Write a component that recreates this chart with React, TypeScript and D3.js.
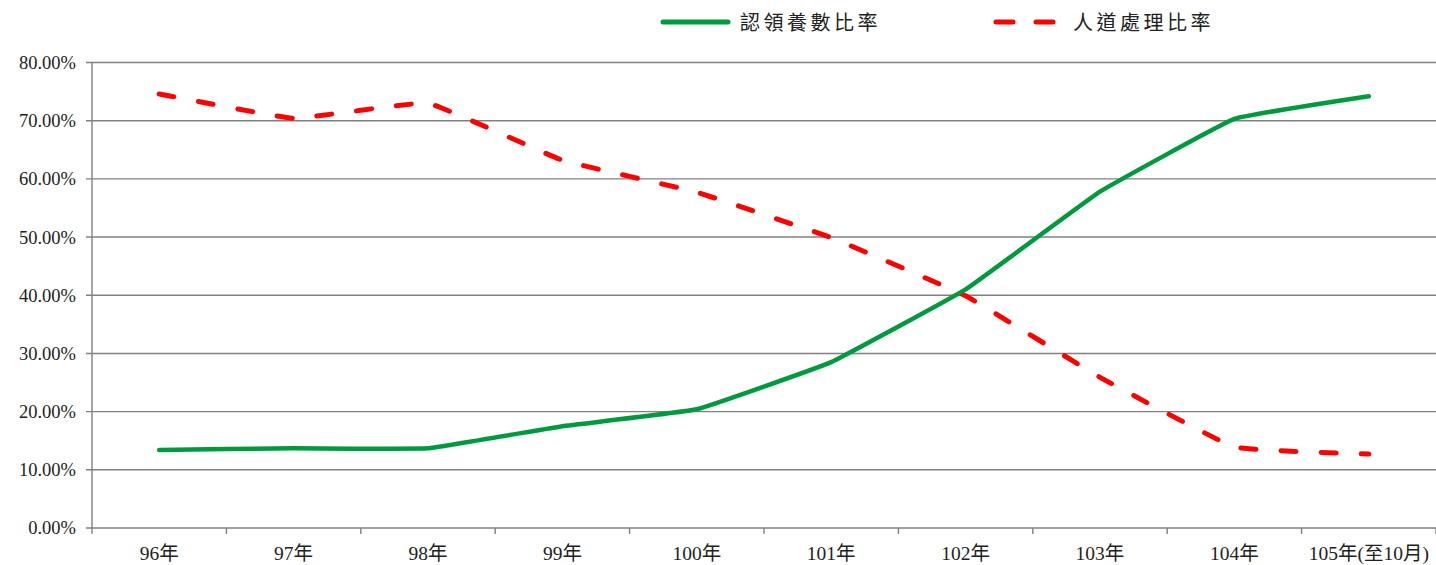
import React, { useEffect, useRef } from 'react';
import * as d3 from 'd3';

// categories and series
const years = ['96年', '97年', '98年', '99年', '100年', '101年', '102年', '103年', '104年', '105年(至10月)'];
const adoptRate = [13.4, 13.7, 13.7, 17.5, 20.4, 28.5, 41.0, 57.8, 70.3, 74.2];
const euthanasiaRate = [74.6, 70.4, 73.0, 63.2, 57.7, 49.9, 39.9, 25.9, 13.9, 12.7];
const yTicks = [0, 10, 20, 30, 40, 50, 60, 70, 80];

const W = 1436;
const H = 565;
const serif = '"Liberation Serif", "Times New Roman", "DejaVu Serif", serif';

const App: React.FC = () => {
  const svgRef = useRef<SVGSVGElement>(null);

  useEffect(() => {
    if (!svgRef.current) return;
    const svg = d3.select(svgRef.current);
    svg.selectAll('*').remove();

    const left = 92, right = 1436, top = 62.5, bottom = 528;

    const x = d3.scaleBand<string>().domain(years).range([left, right]);
    const y = d3.scaleLinear().domain([0, 80]).range([bottom, top]);

    // gridlines
    svg.append('g')
      .selectAll('line')
      .data(yTicks)
      .enter().append('line')
      .attr('x1', left - 6)
      .attr('x2', right)
      .attr('y1', d => y(d))
      .attr('y2', d => y(d))
      .style('stroke', '#808080')
      .style('stroke-width', 1.4);

    // y axis line
    svg.append('line')
      .attr('x1', left).attr('x2', left)
      .attr('y1', top).attr('y2', bottom + 6)
      .style('stroke', '#808080')
      .style('stroke-width', 1.4);

    // x ticks at band boundaries
    const bounds = years.map(d => x(d) as number).concat([right]);
    svg.append('g')
      .selectAll('line')
      .data(bounds.slice(1))
      .enter().append('line')
      .attr('x1', d => d).attr('x2', d => d)
      .attr('y1', bottom).attr('y2', bottom + 6)
      .style('stroke', '#808080')
      .style('stroke-width', 1.4);

    // y labels
    svg.append('g')
      .selectAll('text')
      .data(yTicks)
      .enter().append('text')
      .attr('x', 76)
      .attr('y', d => y(d))
      .attr('dy', '0.35em')
      .attr('text-anchor', 'end')
      .style('font-family', serif)
      .style('font-size', '18.5px')
      .style('fill', '#222')
      .text(d => d.toFixed(2) + '%');

    // x labels
    svg.append('g')
      .selectAll('text')
      .data(years)
      .enter().append('text')
      .attr('x', d => (x(d) as number) + x.bandwidth() / 2)
      .attr('y', 560)
      .attr('text-anchor', 'middle')
      .style('font-family', serif + ', "Noto Sans CJK TC"')
      .style('font-size', '19.5px')
      .style('fill', '#222')
      .text(d => d);

    const line = d3.line<number>()
      .x((_, i) => (x(years[i]) as number) + x.bandwidth() / 2)
      .y(d => y(d))
      .curve(d3.curveCardinal.tension(0.75));

    svg.append('path')
      .attr('d', line(euthanasiaRate))
      .style('fill', 'none')
      .style('stroke', '#ff0000')
      .style('stroke-width', 5)
      .style('stroke-linecap', 'round')
      .style('stroke-dasharray', '15 25');

    svg.append('path')
      .attr('d', line(adoptRate))
      .style('fill', 'none')
      .style('stroke', '#009a3e')
      .style('stroke-width', 4.5)
      .style('stroke-linecap', 'round');

    // legend
    const legend = svg.append('g');
    legend.append('line')
      .attr('x1', 663).attr('x2', 728).attr('y1', 22).attr('y2', 22)
      .style('stroke', '#009a3e').style('stroke-width', 5).style('stroke-linecap', 'round');
    legend.append('text')
      .attr('x', 740).attr('y', 30)
      .style('font-family', '"Noto Sans CJK TC", sans-serif')
      .style('font-size', '20px')
      .style('letter-spacing', '3.5px')
      .style('fill', '#222')
      .text('認領養數比率');
    legend.append('line')
      .attr('x1', 996).attr('x2', 1053).attr('y1', 22).attr('y2', 22)
      .style('stroke', '#ff0000').style('stroke-width', 5).style('stroke-linecap', 'round')
      .style('stroke-dasharray', '17 23');
    legend.append('text')
      .attr('x', 1073).attr('y', 30)
      .style('font-family', '"Noto Sans CJK TC", sans-serif')
      .style('font-size', '20px')
      .style('letter-spacing', '3.5px')
      .style('fill', '#222')
      .text('人道處理比率');
  }, []);

  return (
    <svg ref={svgRef} width={W} height={H}
      style={{ position: 'absolute', left: 0, top: 0, background: '#fff' }} />
  );
};

export default App;
